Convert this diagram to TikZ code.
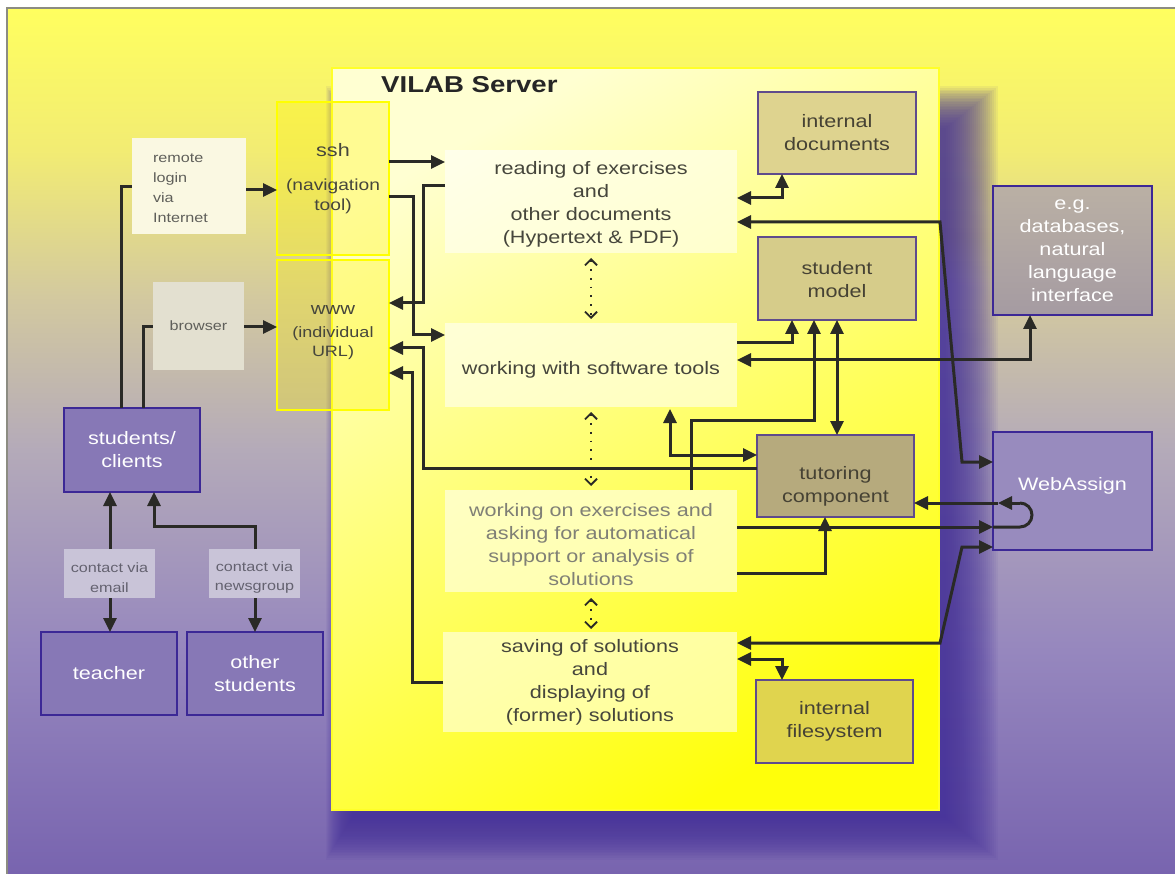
\documentclass[tikz,border=0pt]{standalone}
\usepackage{fontspec}
\setmainfont{Liberation Sans}[FakeStretch=1.2]
\usetikzlibrary{arrows.meta}

\definecolor{bgA}{RGB}{255,255,95}
\definecolor{bgB}{RGB}{242,236,115}
\definecolor{bgC}{RGB}{210,200,160}
\definecolor{bgD}{RGB}{180,170,185}
\definecolor{bgE}{RGB}{150,135,190}
\definecolor{bgF}{RGB}{120,100,175}
\pgfdeclareverticalshading{bgshade}{100bp}{color(0bp)=(bgF); color(25bp)=(bgF); color(37.9bp)=(bgE); color(49.5bp)=(bgD); color(58.1bp)=(bgC); color(66.8bp)=(bgB); color(75bp)=(bgA); color(100bp)=(bgA)}
\definecolor{framegray}{RGB}{140,140,130}
\definecolor{shcol}{RGB}{70,50,155}
\definecolor{srvtop}{RGB}{255,255,210}
\definecolor{srvmid}{RGB}{255,255,150}
\definecolor{srvbot}{RGB}{255,255,10}
\definecolor{srvedge}{RGB}{255,255,40}
\definecolor{linec}{RGB}{42,42,38}
\definecolor{pfill}{RGB}{135,120,182}
\definecolor{pborder}{RGB}{60,40,150}
\definecolor{kborder}{RGB}{95,75,140}
\definecolor{kfillA}{RGB}{222,211,143}
\definecolor{kfillB}{RGB}{214,204,138}
\definecolor{kfillT}{RGB}{182,170,125}
\definecolor{kfillF}{RGB}{224,212,78}
\definecolor{egtop}{RGB}{186,176,164}
\definecolor{egbot}{RGB}{165,155,162}
\definecolor{webfill}{RGB}{152,139,190}
\definecolor{remfill}{RGB}{250,248,226}
\definecolor{brfill}{RGB}{227,224,208}
\definecolor{contfill}{RGB}{201,196,216}
\definecolor{darktext}{RGB}{70,70,60}
\definecolor{greytext}{RGB}{128,128,118}
\definecolor{smalltext}{RGB}{95,95,90}
\definecolor{conttext}{RGB}{100,98,112}
\definecolor{ktext}{RGB}{70,66,52}
\definecolor{sshedge}{RGB}{255,255,0}

\newcommand\myBig{\fontsize{18}{23}\selectfont}
\newcommand\mySmall{\fontsize{13.5}{19.5}\selectfont}
\newcommand\myMid{\fontsize{16}{20}\selectfont}
\newcommand\myTitle{\fontsize{23}{27}\selectfont}
\newcommand\dn[1]{\rule{0pt}{#1pt}}
\newcommand\up[1]{\rule[-#1pt]{0pt}{0pt}}

\tikzset{
  bx/.style 2 args={minimum width=#1pt, minimum height=#2pt, inner sep=0pt, outer sep=0pt, align=center},
  pbox/.style={draw=pborder, line width=2.2pt, fill=pfill, text=white, font=\myBig},
  kbox/.style={draw=kborder, line width=2pt, text=ktext, font=\myBig},
  cbox/.style={fill=white, fill opacity=0.55, text opacity=1, text=darktext, font=\myBig},
  yelbox/.style={draw=sshedge, line width=2.8pt, fill=yellow, fill opacity=0.3, text opacity=1, text=darktext},
  contbox/.style={fill=contfill, text=conttext, font=\mySmall},
  conn/.style={draw=linec, line width=3pt},
  tip/.style={},
  arr/.style={conn, -{Triangle[length=14pt,width=13pt]}},
  darr/.style={conn, {Triangle[length=14pt,width=13pt]}-{Triangle[length=14pt,width=13pt]}},
  dotarr/.style={draw=linec, line width=1.8pt, dash pattern=on 1.8pt off 7pt,
     {Straight Barb[length=6pt,width=12pt,line width=1.8pt]}-{Straight Barb[length=6pt,width=12pt,line width=1.8pt]}}
}

\begin{document}
\begin{tikzpicture}[x=1pt,y=-1pt]
\useasboundingbox (0,0) rectangle (1175,874);
\fill[white] (0,0) rectangle (1175,874);
\shade[shading=bgshade] (7,8) rectangle (1175,874);
\draw[framegray, line width=1.5pt] (7,874) -- (7,8) -- (1175,8);

% shadow of the server
\foreach \i in {0,...,26} {
  \fill[shcol, opacity=0.065] ({352-1*\i},{128-1.6*\i}) rectangle ({946+2*\i},{818+1.6*\i});
}
% server
\shadedraw[top color=srvtop, middle color=srvmid, bottom color=srvbot, shading angle=30, draw=srvedge, line width=1.5pt] (332,68) rectangle (939,810);
\node[anchor=west, font=\myTitle\bfseries, text=black!85, inner sep=0pt] (title) at (381,85) {VILAB Server};

% left side
\node[bx={114}{96}, fill=remfill, text=smalltext, font=\fontsize{13.5}{20}\selectfont, align=left, text width=72pt, inner xsep=21pt, minimum width=0pt] (remote) at (189,186) {\dn{13}remote\\login\\via\\Internet};
\node[bx={91}{88}, fill=brfill, text=smalltext, font=\mySmall] (browser) at (198.5,326) {browser};
\node[bx={112}{153}, yelbox, font=\myMid] (ssh) at (333,178.5) {{\fontsize{18}{22}\selectfont ssh}\\[14pt](navigation\\tool)\up{4}};
\node[bx={112}{150}, yelbox, font=\fontsize{15}{19}\selectfont] (www) at (333,335) {{\fontsize{17}{21}\selectfont www}\\[4pt](individual\\URL)\up{8}};
\node[bx={136}{84}, pbox] (students) at (132,450) {students/\\clients};
\node[bx={91}{49}, contbox] (email) at (109.5,573.5) {\dn{18}contact via\\email};
\node[bx={91}{49}, contbox] (news) at (254.5,573.5) {\dn{18}contact via\\newsgroup};
\node[bx={136}{83}, pbox] (teacher) at (109,673.5) {teacher};
\node[bx={136}{83}, pbox] (other) at (255,673.5) {other\\students};

% center
\node[bx={292}{103}, cbox] (reading) at (591,201.5) {\dn{18}reading of exercises\\and\\other documents\\(Hypertext \& PDF)};
\node[bx={292}{84}, cbox] (tools) at (591,365) {\dn{23}working with software tools};
\node[bx={292}{102}, cbox, text=greytext] (exer) at (591,541) {\dn{21}working on exercises and\\asking for automatical\\support or analysis of\\solutions};
\node[bx={294}{100}, cbox] (saving) at (590,682) {saving of solutions\\and\\displaying of\\(former) solutions};

% right
\node[bx={158}{82}, kbox, fill=kfillA] (intdoc) at (837,133) {internal\\documents};
\node[bx={158}{83}, kbox, fill=kfillB] (stmodel) at (837,278.5) {\dn{16}student\\model};
\node[bx={157}{82}, kbox, fill=kfillT] (tutor) at (835.5,476) {\dn{34}tutoring\\component};
\node[bx={157}{83}, kbox, fill=kfillF] (filesys) at (834.5,721.5) {internal\\filesystem};
\node[bx={159}{129}, draw=pborder, line width=2.5pt, top color=egtop, bottom color=egbot, text=white, font=\myBig] (eg) at (1072.5,250.5) {e.g.\\databases,\\natural\\language\\interface};
\node[bx={159}{118}, draw=pborder, line width=2.5pt, fill=webfill, text=white, font=\myBig] (web) at (1072.5,491) {WebAssign\up{14}};

% left connectors
\draw[conn] (students.north -| 121,0) |- (remote.west |- 0,187);
\draw[conn] (students.north -| 143,0) |- (browser.west |- 0,327);
\draw[arr] (remote.east |- 0,190) -- (ssh.west |- 0,190);
\draw[arr] (browser.east |- 0,327) -- (www.west |- 0,327);
\draw[arr] (email.north -| 110,0) -- (students.south -| 110,0);
\draw[arr] (email.south -| 110,0) -- (teacher.north -| 110,0);
\draw[arr] (news.north -| 255,0) -- (255,526) -| (students.south -| 154,0);
\draw[arr] (news.south -| 255,0) -- (other.north -| 255,0);

% ssh / www connectors
\draw[arr] (ssh.east |- 0,162) -- (reading.west |- 0,162);
\draw[arr] (reading.west |- 0,186) -- (423,186) |- (www.east |- 0,303);
\draw[arr] (ssh.east |- 0,197) -- (413,197) |- (tools.west |- 0,335);
\draw[arr] (tutor.west |- 0,468) -- (423,468) |- (www.east |- 0,348);
\draw[arr] (saving.west |- 0,682) -- (412,682) |- (www.east |- 0,373);

% dotted
\draw[dotarr] (reading.south -| 591,0) ++(0,5) -- ([yshift=4pt]tools.north -| 591,0);
\draw[dotarr] (tools.south -| 591,0) ++(0,5) -- ([yshift=4pt]exer.north -| 591,0);
\draw[dotarr] (exer.south -| 591,0) ++(0,6) -- ([yshift=3pt]saving.north -| 591,0);

% right connectors
\draw[darr] (reading.east |- 0,198) -- (782,198) -- (intdoc.south -| 782,0);
\draw[darr] (reading.east |- 0,222) -- (940,222) -- (962,462) -- (web.west |- 0,462);
\draw[arr] (tools.east |- 0,343) -- (792,343) -- (stmodel.south -| 792,0);
\draw[darr] (tools.east |- 0,360) -- (1030,360) -- (eg.south -| 1030,0);
\draw[arr] (exer.north -| 691,0) -- (691,420) -- (814,420) -- (stmodel.south -| 814,0);
\draw[darr] (stmodel.south -| 837,0) -- (tutor.north -| 837,0);
\draw[darr] ([yshift=-2pt]tools.south -| 670,0) -- (670,455) -- (tutor.west |- 0,455);
\draw[arr] (exer.east |- 0,573) -- (825,573) -- (tutor.south -| 825,0);
\draw[arr] (exer.east |- 0,527) -- (web.west |- 0,527);
\coordinate (loopB) at (1020,527);
\coordinate (loopT) at (1020,503);
\coordinate (loopTip) at (998,503);
\draw[conn] (web.west |- 0,527) -- (loopB) arc[start angle=-90, end angle=90, radius=12pt];
\draw[arr] (loopT) -- (loopTip);
\draw[arr] (loopTip) -- (tutor.east |- 0,503);
\draw[darr] (saving.east |- 0,643) -- (940,643) -- (962,547) -- (web.west |- 0,547);
\draw[darr] (saving.east |- 0,659) -- (782,659) -- (filesys.north -| 782,0);
\end{tikzpicture}
\end{document}
